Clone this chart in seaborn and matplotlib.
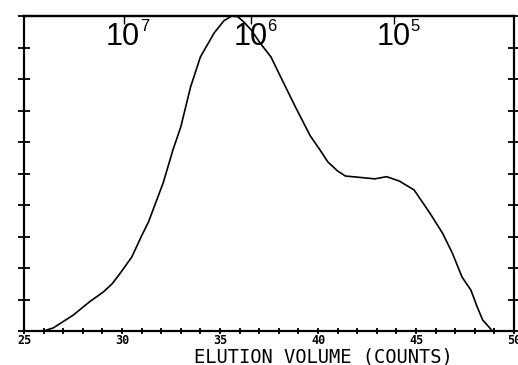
import matplotlib
matplotlib.use("Agg")
import matplotlib.pyplot as plt
import seaborn as sns
import pandas as pd
from matplotlib.ticker import MultipleLocator

# Elution volume (counts) and detector response
elution = [25.0, 26.0, 26.5, 27.0, 27.5, 28.35, 29.05, 29.5, 29.95, 30.5, 31.0, 31.35, 32.1, 32.6,
           33.0, 33.5, 34.0, 34.7, 35.2, 35.6, 35.9, 36.2, 36.6, 37.05, 37.6, 38.1, 38.85, 39.6,
           40.1, 40.5, 41.0, 41.4, 42.9, 43.5, 44.15, 44.9, 45.7, 46.35, 46.85, 47.35, 47.8,
           48.1, 48.4, 48.9]
response = [0.0, 0.0, 0.1, 0.3, 0.5, 0.93, 1.24, 1.5, 1.87, 2.35, 3.02, 3.46, 4.7, 5.75,
            6.48, 7.75, 8.7, 9.46, 9.85, 10.0, 9.98, 9.82, 9.55, 9.14, 8.7, 8.06, 7.11, 6.2,
            5.75, 5.37, 5.08, 4.92, 4.83, 4.9, 4.76, 4.48, 3.75, 3.11, 2.48, 1.71, 1.3,
            0.8, 0.35, 0.0]

# Molecular weight calibration marks on top axis
mw_pos = [30.1, 36.6, 43.9]
mw_exp = ["7", "6", "5"]

x_ticks = [25, 30, 35, 40, 45, 50]
x_label = "ELUTION VOLUME (COUNTS)"

sns.set_theme(style="ticks")
plt.rcParams["font.family"] = ["DejaVu Sans"]
plt.rcParams["text.color"] = "black"

fig = plt.figure(figsize=(5.18, 3.65), dpi=100)
ax = fig.add_axes([24 / 518, 1 - 331 / 365, (514 - 24) / 518, (331 - 16) / 365])

df = pd.DataFrame({"x": elution, "y": response})
sns.lineplot(data=df, x="x", y="y", ax=ax, color="black", linewidth=1.2,
             estimator=None, sort=False)

ax.set_xlim(25, 50)
ax.set_ylim(0, 10)
ax.set_xticks(x_ticks)
ax.set_xticklabels([str(t) for t in x_ticks], fontfamily="DejaVu Sans Mono",
                   fontweight="bold", fontsize=8.5, color="black")
ax.xaxis.set_minor_locator(MultipleLocator(1))
ax.yaxis.set_major_locator(MultipleLocator(1))
ax.set_yticklabels([])
ax.tick_params(axis="x", which="both", direction="inout", length=5, width=1.3,
               pad=0, colors="black")
ax.tick_params(axis="y", which="major", direction="inout", length=9, width=1.3,
               left=True, right=True, colors="black")
ax.set_ylabel("")
ax.set_xlabel(x_label, fontfamily="DejaVu Sans Mono", fontsize=13.5, color="black")
ax.xaxis.set_label_coords(0.61, -0.051)
ax.xaxis.label.set_va("top")

for s in ax.spines.values():
    s.set_visible(True)
    s.set_linewidth(1.6)
    s.set_color("black")

sec = ax.secondary_xaxis("top")
sec.set_xticks(mw_pos)
sec.set_xticklabels([])
sec.tick_params(direction="in", length=6, width=1.0, colors="black")
sec.spines["top"].set_linewidth(1.6)
sec.spines["top"].set_color("black")

for p, e in zip(mw_pos, mw_exp):
    ax.annotate("10", xy=(p, 10), xytext=(-1, -6), textcoords="offset pixels",
                ha="center", va="top", fontsize=22, color="black",
                fontfamily=["Liberation Sans Narrow", "Liberation Sans"])
    ax.annotate(e, xy=(p, 10), xytext=(16, -3), textcoords="offset pixels",
                ha="left", va="top", fontsize=12, color="black",
                fontfamily=["Liberation Sans Narrow", "Liberation Sans"])

fig.savefig("out.png", dpi=100)
